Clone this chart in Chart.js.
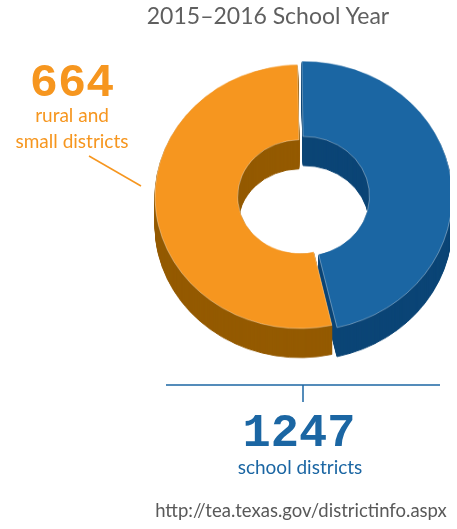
<!DOCTYPE html>
<html>
<head>
<meta charset="utf-8">
<script src="https://cdn.jsdelivr.net/npm/chart.js@4"></script>
<style>
    body { margin: 0; background: #fff; width: 457px; height: 529px; position: relative; overflow: hidden; font-family: Lato, "Open Sans", sans-serif; }
    .txt { position: absolute; white-space: nowrap; text-align: center; }
    #title { left: 0; width: 536px; top: 1px; font-size: 23px; color: #5f5f5f; }
    .big { font-family: "Liberation Mono", "DejaVu Sans Mono", monospace; font-weight: bold; font-size: 47px; line-height: 1; }
    #rural-num { left: 0; width: 144px; top: 60px; color: #f6961f; }
    #rural-lbl { left: 0; width: 144px; top: 102px; font-size: 19px; line-height: 26px; color: #f6961f; }
    #total-num { left: 149px; width: 300px; top: 410px; color: #1b66a3; }
    #total-lbl { left: 150px; width: 300px; top: 455px; font-size: 19px; color: #1b66a3; }
    #source { left: 150px; width: 302px; top: 499px; font-size: 18.5px; color: #595959; }
    #chart-wrap { position: absolute; left: 150px; top: 59.5px; width: 300px; height: 340px; transform: scaleY(0.91); transform-origin: 0 0; }
    #lines { position: absolute; left: 0; top: 0; }
</style>
</head>
<body>
<div id="chart-wrap"><canvas id="districts-chart" width="300" height="340"></canvas></div>
<svg id="lines" width="457" height="529">
    <line x1="89" y1="156" x2="141" y2="186" stroke="#f6961f" stroke-width="1.5"/>
    <line x1="166" y1="385" x2="440" y2="385" stroke="#1b66a3" stroke-width="1.5"/>
    <line x1="303" y1="385" x2="303" y2="402" stroke="#1b66a3" stroke-width="1.5"/>
</svg>
<div class="txt" id="title">2015–2016 School Year</div>
<div class="txt big" id="rural-num">664</div>
<div class="txt" id="rural-lbl">rural and<br>small districts</div>
<div class="txt big" id="total-num">1247</div>
<div class="txt" id="total-lbl">school districts</div>
<div class="txt" id="source">http://tea.texas.gov/districtinfo.aspx</div>
<script>
// dados do gráfico
const categorias = ['Outros distritos', 'Rurais e pequenos'];
const valores = [583, 664];
const coresTopo = ['#1b66a3', '#f6961f'];
const coresLado = ['#0b4576', '#945a00'];
const deslocamentos = [16, 0];

// profundidade do efeito 3D (px, antes da escala vertical)
const PROFUNDIDADE = 32;

/**
 * Desenha a lateral do anel repetindo os arcos deslocados para baixo
 */
const extrusao3D = {
    id: 'extrusao3D',
    beforeDatasetsDraw(chart) {
        const ctx = chart.ctx;
        const arcs = chart.getDatasetMeta(0).data;
        for (let d = PROFUNDIDADE; d >= 1; d--) {
            ctx.save();
            ctx.translate(0, d);
            arcs.forEach((arc, i) => {
                const original = arc.options;
                arc.options = Object.assign({}, original, {
                    backgroundColor: coresLado[i],
                    borderColor: coresLado[i],
                    borderWidth: 1
                });
                arc.draw(ctx);
                arc.options = original;
            });
            ctx.restore();
        }
    }
};

new Chart(document.getElementById('districts-chart'), {
    type: 'doughnut',
    data: {
        labels: categorias,
        datasets: [{
            data: valores,
            backgroundColor: coresTopo,
            borderColor: 'rgba(255,255,255,0.35)',
            borderWidth: 1,
            offset: deslocamentos
        }]
    },
    options: {
        responsive: false,
        animation: false,
        radius: 145,
        cutout: '43%',
        rotation: -1,
        layout: { padding: { bottom: 40 } },
        plugins: {
            legend: { display: false },
            tooltip: { enabled: false }
        }
    },
    plugins: [extrusao3D]
});
</script>
</body>
</html>
